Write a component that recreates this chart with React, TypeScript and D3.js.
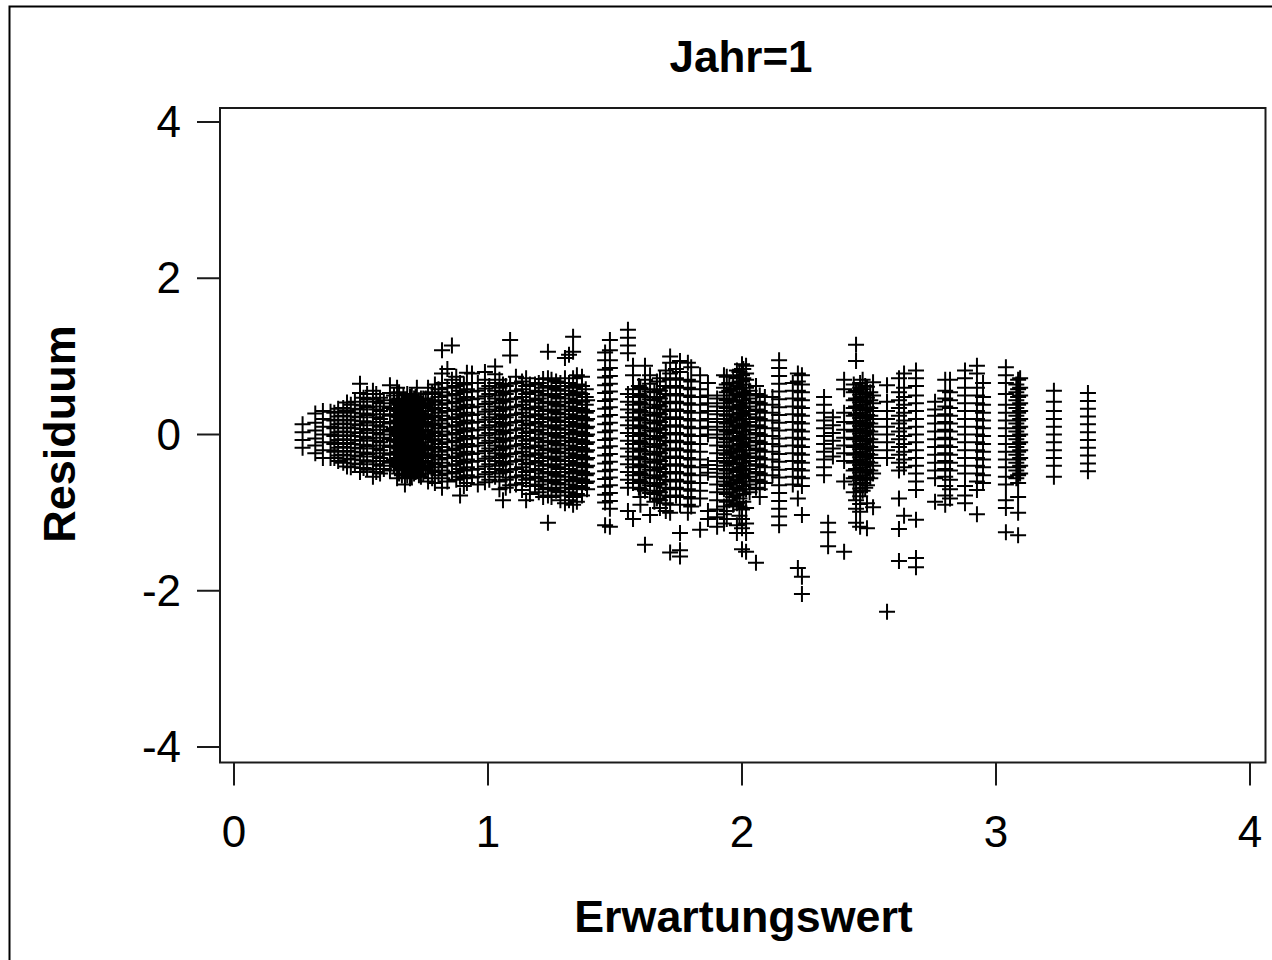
import React from "react";
import * as d3 from "d3";

const xTicks = [0, 1, 2, 3, 4];
const yTicks = [-4, -2, 0, 2, 4];
const titleText = "Jahr=1";
const xLabel = "Erwartungswert";
const yLabel = "Residuum";

const columnX = [
  0.27, 0.32, 0.38, 0.41, 0.445, 0.476, 0.496, 0.524, 0.547, 0.575, 0.614, 0.642, 0.661, 0.673, 0.693, 0.709, 0.72, 0.736,
  0.764, 0.791, 0.819, 0.858, 0.89, 0.917, 0.937, 0.988, 1.028, 1.059, 1.087, 1.134, 1.15, 1.185, 1.217, 1.236, 1.268,
  1.303, 1.319, 1.335, 1.37, 1.39, 1.461, 1.48, 1.551, 1.571, 1.594, 1.618, 1.638, 1.677, 1.717, 1.756, 1.787, 1.835,
  1.866, 1.902, 1.929, 1.965, 2.0, 2.016, 2.055, 2.09, 2.146, 2.22, 2.236, 2.323, 2.339, 2.358, 2.402, 2.449, 2.465,
  2.492, 2.516, 2.571, 2.618, 2.638, 2.685, 2.76, 2.8, 2.819, 2.878, 2.925, 2.949, 3.039, 3.087, 3.228, 3.362,
];

const columnY = [
  [-0.17, -0.07, 0.03, 0.13],
  [-0.24, -0.14, -0.05, 0.05, 0.15, 0.27],
  [-0.3, -0.2, -0.1, 0, 0.1, 0.19, 0.29],
  [-0.34, -0.27, -0.17, -0.07, 0.03, 0.13, 0.23, 0.33],
  [-0.41, -0.31, -0.21, -0.11, -0.01, 0.09, 0.19, 0.3, 0.41],
  [-0.37, -0.27, -0.17, -0.07, 0.03, 0.13, 0.23, 0.33, 0.42],
  [-0.48, -0.38, -0.28, -0.18, -0.08, 0.02, 0.12, 0.22, 0.32, 0.42, 0.53, 0.65],
  [-0.45, -0.35, -0.25, -0.15, -0.05, 0.05, 0.15, 0.25, 0.35, 0.45, 0.52],
  [-0.54, -0.44, -0.34, -0.24, -0.14, -0.04, 0.06, 0.16, 0.26, 0.36, 0.46, 0.56],
  [-0.5, -0.4, -0.3, -0.2, -0.1, 0, 0.1, 0.2, 0.3, 0.4, 0.47],
  [-0.46, -0.36, -0.26, -0.16, -0.06, 0.04, 0.14, 0.24, 0.34, 0.44, 0.53, 0.63],
  [-0.56, -0.46, -0.38, -0.3, -0.22, -0.14, -0.06, 0.02, 0.1, 0.18, 0.26, 0.34, 0.42, 0.5, 0.6],
  [-0.52, -0.44, -0.36, -0.28, -0.2, -0.12, -0.04, 0.04, 0.12, 0.2, 0.28, 0.36, 0.44],
  [-0.64, -0.55, -0.41, -0.33, -0.25, -0.17, -0.09, -0.01, 0.07, 0.15, 0.23, 0.31, 0.39],
  [-0.56, -0.48, -0.4, -0.32, -0.24, -0.16, -0.08, 0, 0.08, 0.16, 0.24, 0.32, 0.4, 0.48],
  [-0.5, -0.42, -0.34, -0.26, -0.18, -0.1, -0.02, 0.06, 0.14, 0.22, 0.3, 0.38, 0.46],
  [-0.46, -0.38, -0.3, -0.22, -0.14, -0.06, 0.02, 0.1, 0.18, 0.26, 0.34, 0.42, 0.6],
  [-0.54, -0.44, -0.34, -0.24, -0.14, -0.04, 0.06, 0.16, 0.26, 0.36, 0.46],
  [-0.6, -0.5, -0.4, -0.3, -0.2, -0.1, 0, 0.1, 0.2, 0.3, 0.4, 0.52, 0.6],
  [-0.62, -0.48, -0.38, -0.28, -0.18, -0.08, 0.02, 0.12, 0.22, 0.32, 0.42, 0.52, 0.64],
  [-0.68, -0.56, -0.46, -0.36, -0.26, -0.16, -0.06, 0.04, 0.14, 0.24, 0.34, 0.44, 0.54, 0.66, 0.78, 1.08],
  [-0.5, -0.4, -0.3, -0.2, -0.1, 0, 0.1, 0.2, 0.3, 0.4, 0.5, 0.6, 0.7, 1.14],
  [-0.78, -0.54, -0.44, -0.34, -0.24, -0.14, -0.04, 0.06, 0.16, 0.26, 0.36, 0.46, 0.56, 0.66],
  [-0.62, -0.52, -0.42, -0.32, -0.22, -0.12, -0.02, 0.08, 0.18, 0.28, 0.38, 0.48, 0.58, 0.66, 0.79],
  [-0.55, -0.45, -0.35, -0.25, -0.15, -0.05, 0.05, 0.15, 0.25, 0.35, 0.45, 0.55, 0.66, 0.78],
  [-0.61, -0.51, -0.41, -0.31, -0.21, -0.11, -0.01, 0.09, 0.19, 0.29, 0.39, 0.49, 0.59, 0.7, 0.8],
  [-0.54, -0.44, -0.34, -0.24, -0.14, -0.04, 0.06, 0.16, 0.26, 0.36, 0.46, 0.56, 0.66, 0.77, 0.87],
  [-0.84, -0.46, -0.36, -0.26, -0.16, -0.06, 0.04, 0.14, 0.24, 0.34, 0.44, 0.54, 0.64],
  [-0.65, -0.55, -0.45, -0.35, -0.25, -0.15, -0.05, 0.05, 0.15, 0.25, 0.35, 0.45, 0.55, 0.65, 1.01, 1.21],
  [-0.71, -0.62, -0.52, -0.42, -0.32, -0.22, -0.12, -0.02, 0.08, 0.18, 0.28, 0.38, 0.48, 0.58, 0.68],
  [-0.84, -0.58, -0.48, -0.38, -0.28, -0.18, -0.08, 0.02, 0.12, 0.22, 0.32, 0.42, 0.52, 0.62, 0.72],
  [-0.66, -0.56, -0.46, -0.36, -0.26, -0.16, -0.06, 0.04, 0.14, 0.24, 0.34, 0.44, 0.54, 0.64],
  [-0.8, -0.7, -0.6, -0.5, -0.4, -0.3, -0.2, -0.1, 0, 0.1, 0.2, 0.3, 0.4, 0.5, 0.6, 0.71],
  [-1.13, -0.78, -0.68, -0.58, -0.48, -0.38, -0.28, -0.18, -0.08, 0.02, 0.12, 0.22, 0.32, 0.42, 0.52, 0.62, 0.72, 1.06],
  [-0.72, -0.62, -0.52, -0.42, -0.32, -0.22, -0.12, -0.02, 0.08, 0.18, 0.28, 0.38, 0.48, 0.58, 0.68],
  [-0.88, -0.78, -0.68, -0.58, -0.48, -0.38, -0.28, -0.18, -0.08, 0.02, 0.12, 0.22, 0.32, 0.42, 0.52, 0.62, 0.72, 0.98],
  [-0.84, -0.74, -0.64, -0.54, -0.44, -0.34, -0.24, -0.14, -0.04, 0.06, 0.16, 0.26, 0.36, 0.46, 0.56, 0.66, 1.02],
  [-0.9, -0.8, -0.7, -0.6, -0.5, -0.4, -0.3, -0.2, -0.1, 0, 0.1, 0.2, 0.3, 0.4, 0.5, 0.6, 0.72, 1.06, 1.25],
  [-0.78, -0.68, -0.58, -0.48, -0.38, -0.28, -0.18, -0.08, 0.02, 0.12, 0.22, 0.32, 0.42, 0.52, 0.62, 0.74],
  [-0.7, -0.6, -0.5, -0.4, -0.3, -0.2, -0.1, 0, 0.1, 0.2, 0.3, 0.44],
  [-1.16, -0.87, -0.77, -0.67, -0.57, -0.47, -0.37, -0.27, -0.17, -0.07, 0.03, 0.13, 0.23, 0.33, 0.43, 0.53, 0.63, 0.73, 0.83, 0.95, 1.05],
  [-1.18, -0.95, -0.85, -0.75, -0.65, -0.55, -0.45, -0.35, -0.25, -0.15, -0.05, 0.05, 0.15, 0.25, 0.35, 0.45, 0.55, 0.65, 0.75, 0.85, 0.95, 1.08, 1.21],
  [-0.98, -0.68, -0.58, -0.48, -0.38, -0.28, -0.18, -0.08, 0.02, 0.12, 0.22, 0.32, 0.42, 0.52, 1.04, 1.14, 1.24, 1.34],
  [-1.08, -0.62, -0.52, -0.42, -0.32, -0.22, -0.12, -0.02, 0.08, 0.18, 0.28, 0.38, 0.48, 0.58, 0.76, 0.88],
  [-0.68, -0.58, -0.48, -0.38, -0.28, -0.18, -0.08, 0.02, 0.12, 0.22, 0.32, 0.42, 0.52, 0.62],
  [-1.41, -0.72, -0.62, -0.52, -0.42, -0.32, -0.22, -0.12, -0.02, 0.08, 0.18, 0.28, 0.38, 0.48, 0.58, 0.7, 0.88],
  [-1.03, -0.75, -0.65, -0.55, -0.45, -0.35, -0.25, -0.15, -0.05, 0.05, 0.15, 0.25, 0.35, 0.45, 0.55, 0.65, 0.76],
  [-0.94, -0.84, -0.74, -0.64, -0.54, -0.44, -0.34, -0.24, -0.14, -0.04, 0.06, 0.16, 0.26, 0.36, 0.46, 0.56, 0.72],
  [-1.51, -1.0, -0.9, -0.8, -0.7, -0.6, -0.5, -0.4, -0.3, -0.2, -0.1, 0, 0.1, 0.2, 0.3, 0.4, 0.5, 0.6, 0.7, 0.78, 0.92, 1.0],
  [-1.56, -1.48, -1.26, -0.9, -0.8, -0.7, -0.6, -0.5, -0.4, -0.3, -0.2, -0.1, 0, 0.1, 0.2, 0.3, 0.4, 0.5, 0.6, 0.7, 0.8, 0.94],
  [-1.0, -0.9, -0.8, -0.7, -0.6, -0.5, -0.4, -0.3, -0.2, -0.1, 0, 0.1, 0.2, 0.3, 0.4, 0.5, 0.6, 0.7, 0.92],
  [-1.22, -0.82, -0.72, -0.62, -0.52, -0.42, -0.32, -0.22, -0.12, -0.02, 0.08, 0.18, 0.28, 0.38, 0.48, 0.58, 0.76],
  [-1.08, -0.98, -0.49, -0.39, 0, 0.1, 0.2, 0.3, 0.4, 0.5, 0.66],
  [-1.18, -1.06, -0.96, -0.84, -0.74, -0.64, -0.54, -0.44, -0.34, -0.24, -0.14, -0.04, 0.06, 0.16, 0.26, 0.36, 0.46],
  [-1.14, -1.02, -0.92, -0.7, -0.6, -0.5, -0.4, -0.3, -0.2, -0.1, 0, 0.1, 0.2, 0.3, 0.4, 0.5, 0.6, 0.76],
  [-0.9, -0.8, -0.7, -0.62, -0.54, -0.46, -0.38, -0.3, -0.22, -0.14, -0.06, 0.02, 0.1, 0.18, 0.26, 0.34, 0.42, 0.5, 0.58, 0.66, 0.74],
  [-1.47, -1.2, -1.08, -0.96, -0.6, -0.52, -0.44, -0.36, -0.28, -0.2, -0.12, -0.04, 0.04, 0.12, 0.2, 0.28, 0.36, 0.44, 0.52, 0.6, 0.68, 0.76, 0.84, 0.9],
  [-1.5, -1.26, -1.14, -0.94, -0.7, -0.6, -0.5, -0.4, -0.3, -0.2, -0.1, 0, 0.1, 0.2, 0.3, 0.4, 0.5, 0.6, 0.7, 0.78, 0.88],
  [-1.64, -0.68, -0.58, -0.48, -0.38, -0.28, -0.18, -0.08, 0.02, 0.12, 0.22, 0.32, 0.42, 0.52, 0.62],
  [-0.62, -0.52, -0.42, -0.32, -0.22, -0.12, -0.02, 0.08, 0.18, 0.28, 0.38, 0.48],
  [-1.16, -1.05, -0.95, -0.85, -0.75, -0.65, -0.55, -0.45, -0.35, -0.25, -0.15, -0.05, 0.05, 0.15, 0.25, 0.35, 0.45, 0.55, 0.65, 0.75, 0.85, 0.95],
  [-1.71, -0.82, -0.54, -0.44, -0.34, -0.24, -0.14, -0.04, 0.06, 0.16, 0.26, 0.36, 0.46, 0.56, 0.68, 0.78],
  [-2.04, -1.82, -1.03, -0.66, -0.56, -0.46, -0.36, -0.26, -0.16, -0.06, 0.04, 0.14, 0.24, 0.34, 0.44, 0.54, 0.64, 0.76],
  [-0.52, -0.42, -0.32, -0.22, -0.12, -0.02, 0.08, 0.18, 0.28, 0.38, 0.48],
  [-1.43, -1.25, -1.13],
  [-0.28, -0.18, -0.08, 0.02, 0.12, 0.22],
  [-1.5, -0.6, -0.34, -0.24, -0.14, -0.04, 0.06, 0.16, 0.28, 0.58, 0.7],
  [-1.13, -0.95, -0.84, -0.74, -0.64, -0.54, -0.44, -0.34, -0.24, -0.14, -0.04, 0.06, 0.16, 0.26, 0.36, 0.46, 0.56, 0.94, 1.15],
  [-1.18, -0.99, -0.89, -0.79, -0.69, -0.59, -0.49, -0.39, -0.29, -0.19, -0.09, 0.01, 0.11, 0.21, 0.31, 0.41, 0.51, 0.6, 0.66],
  [-1.2, -0.88, -0.65, -0.55, -0.45, -0.35, -0.25, -0.15, -0.05, 0.05, 0.15, 0.25, 0.35, 0.47, 0.61],
  [-0.93, -0.5, -0.4, -0.3, -0.2, -0.1, 0, 0.1, 0.2, 0.3, 0.4, 0.5, 0.67],
  [-2.27, -0.3, -0.2, -0.1, 0, 0.1, 0.2, 0.3, 0.42, 0.63],
  [-1.62, -1.21, -0.82, -0.46, -0.36, -0.26, -0.16, -0.06, 0.04, 0.14, 0.24, 0.34, 0.44, 0.54, 0.72],
  [-1.04, -0.42, -0.32, -0.22, -0.12, -0.02, 0.08, 0.18, 0.28, 0.38, 0.48, 0.6, 0.78],
  [-1.7, -1.58, -1.09, -0.71, -0.6, -0.5, -0.4, -0.3, -0.2, -0.1, 0, 0.1, 0.2, 0.3, 0.4, 0.5, 0.62, 0.72, 0.82],
  [-0.86, -0.56, -0.46, -0.36, -0.26, -0.16, -0.06, 0.04, 0.14, 0.24, 0.32, 0.42],
  [-0.9, -0.78, -0.66, -0.54, -0.44, -0.34, -0.24, -0.14, -0.04, 0.06, 0.16, 0.26, 0.36, 0.46, 0.56, 0.7],
  [-0.82, -0.7, -0.58, -0.46, -0.36, -0.26, -0.16, -0.06, 0.04, 0.14, 0.24, 0.34, 0.44, 0.54, 0.7],
  [-0.88, -0.78, -0.66, -0.5, -0.4, -0.3, -0.2, -0.1, 0, 0.1, 0.2, 0.3, 0.4, 0.5, 0.6, 0.72, 0.82],
  [-1.02, -0.71, -0.6, -0.5, -0.4, -0.3, -0.2, -0.1, 0, 0.1, 0.2, 0.3, 0.4, 0.5, 0.6, 0.78, 0.88],
  [-0.62, -0.52, -0.42, -0.32, -0.22, -0.12, -0.02, 0.08, 0.18, 0.28, 0.38, 0.48, 0.66],
  [-1.25, -0.94, -0.84, -0.64, -0.54, -0.42, -0.32, -0.22, -0.12, -0.02, 0.08, 0.18, 0.28, 0.38, 0.52, 0.66, 0.76, 0.86],
  [-1.29, -1.0, -0.8, -0.62, -0.52, -0.42, -0.32, -0.22, -0.12, -0.02, 0.08, 0.18, 0.28, 0.38, 0.48, 0.58, 0.7],
  [-0.54, -0.4, -0.3, -0.2, -0.1, 0, 0.1, 0.2, 0.3, 0.42, 0.56],
  [-0.47, -0.37, -0.27, -0.17, -0.07, 0.03, 0.13, 0.23, 0.33, 0.43, 0.53],
];

// Columns that fill the dense parts of the cloud, where single columns overlap.
const denseX = [
  0.35, 0.395, 0.43, 0.46, 0.51, 0.56, 0.59, 0.63, 0.65, 0.667, 0.682, 0.70, 0.715, 0.728, 0.745, 0.755, 0.78, 0.805,
  0.84, 0.875, 0.905, 0.96, 1.005, 1.045, 1.07, 1.11, 1.165, 1.2, 1.25, 1.285, 1.35, 1.385, 1.6, 1.655, 1.665, 1.7,
  1.74, 1.8, 1.94, 1.95, 1.98, 1.99, 2.005, 2.03, 2.07, 2.12, 2.2, 2.44, 2.475, 2.485, 2.505, 3.08, 3.095,
];

const denseY = [
  [-0.3, -0.2, -0.1, 0, 0.1, 0.2, 0.3],
  [-0.3, -0.22, -0.12, -0.02, 0.08, 0.18, 0.28],
  [-0.36, -0.26, -0.16, -0.06, 0.04, 0.14, 0.24, 0.34],
  [-0.42, -0.32, -0.22, -0.12, -0.02, 0.08, 0.18, 0.28, 0.38],
  [-0.43, -0.33, -0.23, -0.13, -0.03, 0.07, 0.17, 0.27, 0.37, 0.47],
  [-0.48, -0.38, -0.28, -0.18, -0.08, 0.02, 0.12, 0.22, 0.32, 0.42, 0.52],
  [-0.44, -0.34, -0.24, -0.14, -0.04, 0.06, 0.16, 0.26, 0.36, 0.44],
  [-0.4, -0.32, -0.24, -0.16, -0.08, 0, 0.08, 0.16, 0.24, 0.32, 0.4, 0.5],
  [-0.5, -0.42, -0.34, -0.26, -0.18, -0.1, -0.02, 0.06, 0.14, 0.22, 0.3, 0.38, 0.46, 0.54],
  [-0.46, -0.38, -0.3, -0.22, -0.14, -0.06, 0.02, 0.1, 0.18, 0.26, 0.34, 0.42, 0.5],
  [-0.52, -0.44, -0.36, -0.28, -0.2, -0.12, -0.04, 0.04, 0.12, 0.2, 0.28, 0.36, 0.44, 0.52],
  [-0.54, -0.46, -0.38, -0.3, -0.22, -0.14, -0.06, 0.02, 0.1, 0.18, 0.26, 0.34, 0.42, 0.5],
  [-0.48, -0.4, -0.32, -0.24, -0.16, -0.08, 0, 0.08, 0.16, 0.24, 0.32, 0.4, 0.48],
  [-0.52, -0.44, -0.36, -0.28, -0.2, -0.12, -0.04, 0.04, 0.12, 0.2, 0.28, 0.36, 0.44],
  [-0.5, -0.42, -0.34, -0.26, -0.18, -0.1, -0.02, 0.06, 0.14, 0.22, 0.3, 0.38, 0.46],
  [-0.44, -0.34, -0.24, -0.14, -0.04, 0.06, 0.16, 0.26, 0.36, 0.46],
  [-0.56, -0.46, -0.36, -0.26, -0.16, -0.06, 0.04, 0.14, 0.24, 0.34, 0.44, 0.54],
  [-0.52, -0.42, -0.32, -0.22, -0.12, -0.02, 0.08, 0.18, 0.28, 0.38, 0.48, 0.58],
  [-0.6, -0.5, -0.4, -0.3, -0.2, -0.1, 0, 0.1, 0.2, 0.3, 0.4, 0.5, 0.6, 0.84],
  [-0.58, -0.48, -0.38, -0.28, -0.18, -0.08, 0.02, 0.12, 0.22, 0.32, 0.42, 0.52, 0.62, 0.74],
  [-0.66, -0.56, -0.46, -0.36, -0.26, -0.16, -0.06, 0.04, 0.14, 0.24, 0.34, 0.44, 0.54, 0.64],
  [-0.64, -0.54, -0.44, -0.34, -0.24, -0.14, -0.04, 0.06, 0.16, 0.26, 0.36, 0.46, 0.56, 0.66],
  [-0.58, -0.48, -0.38, -0.28, -0.18, -0.08, 0.02, 0.12, 0.22, 0.32, 0.42, 0.52, 0.62],
  [-0.7, -0.6, -0.5, -0.4, -0.3, -0.2, -0.1, 0, 0.1, 0.2, 0.3, 0.4, 0.5, 0.6, 0.7],
  [-0.68, -0.58, -0.48, -0.38, -0.28, -0.18, -0.08, 0.02, 0.12, 0.22, 0.32, 0.42, 0.52, 0.62],
  [-0.64, -0.54, -0.44, -0.34, -0.24, -0.14, -0.04, 0.06, 0.16, 0.26, 0.36, 0.46, 0.56, 0.66, 0.74],
  [-0.76, -0.66, -0.56, -0.46, -0.36, -0.26, -0.16, -0.06, 0.04, 0.14, 0.24, 0.34, 0.44, 0.54, 0.64],
  [-0.74, -0.64, -0.54, -0.44, -0.34, -0.24, -0.14, -0.04, 0.06, 0.16, 0.26, 0.36, 0.46, 0.56, 0.66],
  [-0.8, -0.7, -0.6, -0.5, -0.4, -0.3, -0.2, -0.1, 0, 0.1, 0.2, 0.3, 0.4, 0.5, 0.6, 0.7],
  [-0.84, -0.74, -0.64, -0.54, -0.44, -0.34, -0.24, -0.14, -0.04, 0.06, 0.16, 0.26, 0.36, 0.46, 0.56, 0.66],
  [-0.86, -0.76, -0.66, -0.56, -0.46, -0.36, -0.26, -0.16, -0.06, 0.04, 0.14, 0.24, 0.34, 0.44, 0.54, 0.64, 0.76],
  [-0.62, -0.52, -0.42, -0.32, -0.22, -0.12, -0.02, 0.08, 0.18, 0.28, 0.38, 0.48, 0.58],
  [-0.9, -0.8, -0.7, -0.6, -0.5, -0.4, -0.3, -0.2, -0.1, 0, 0.1, 0.2, 0.3, 0.4, 0.5, 0.6],
  [-0.86, -0.76, -0.66, -0.56, -0.46, -0.36, -0.26, -0.16, -0.06, 0.04, 0.14, 0.24, 0.34, 0.44, 0.54],
  [-0.82, -0.72, -0.62, -0.52, -0.42, -0.32, -0.22, -0.12, -0.02, 0.08, 0.18, 0.28, 0.38, 0.48, 0.58, 0.68],
  [-0.98, -0.88, -0.78, -0.68, -0.58, -0.48, -0.38, -0.28, -0.18, -0.08, 0.02, 0.12, 0.22, 0.32, 0.42, 0.52, 0.62, 0.82],
  [-0.78, -0.68, -0.58, -0.48, -0.38, -0.28, -0.18, -0.08, 0.02, 0.12, 0.22, 0.32, 0.42, 0.52, 0.62, 0.72, 0.84],
  [-0.92, -0.82, -0.72, -0.62, -0.52, -0.42, -0.32, -0.22, -0.12, -0.02, 0.08, 0.18, 0.28, 0.38, 0.48, 0.58, 0.68, 0.86],
  [-1.08, -0.98, -0.86, -0.76, -0.66, -0.56, -0.46, -0.36, -0.26, -0.16, -0.06, 0.04, 0.14, 0.24, 0.34, 0.44, 0.54, 0.64, 0.74],
  [-0.84, -0.74, -0.64, -0.54, -0.44, -0.34, -0.24, -0.14, -0.04, 0.06, 0.16, 0.26, 0.36, 0.46, 0.56, 0.66],
  [-1.26, -1.16, -0.88, -0.78, -0.68, -0.58, -0.48, -0.38, -0.28, -0.18, -0.08, 0.02, 0.12, 0.22, 0.32, 0.42, 0.52, 0.62, 0.72, 0.82],
  [-1.04, -0.92, -0.82, -0.72, -0.62, -0.52, -0.42, -0.32, -0.22, -0.12, -0.02, 0.08, 0.18, 0.28, 0.38, 0.48, 0.58, 0.68, 0.8],
  [-0.86, -0.76, -0.66, -0.56, -0.46, -0.36, -0.26, -0.16, -0.06, 0.04, 0.14, 0.24, 0.34, 0.44, 0.54, 0.64, 0.72, 0.84],
  [-0.74, -0.64, -0.54, -0.44, -0.34, -0.24, -0.14, -0.04, 0.06, 0.16, 0.26, 0.36, 0.46, 0.56],
  [-0.8, -0.7, -0.6, -0.5, -0.4, -0.3, -0.2, -0.1, 0, 0.1, 0.2, 0.3, 0.4, 0.5],
  [-0.52, -0.42, -0.32, -0.22, -0.12, -0.02, 0.08, 0.18, 0.28, 0.38, 0.48],
  [-0.64, -0.54, -0.44, -0.34, -0.24, -0.14, -0.04, 0.06, 0.16, 0.26, 0.36, 0.46, 0.56, 0.66],
  [-0.74, -0.56, -0.46, -0.36, -0.26, -0.16, -0.06, 0.04, 0.14, 0.24, 0.34, 0.44, 0.54, 0.64],
  [-0.72, -0.62, -0.52, -0.42, -0.32, -0.22, -0.12, -0.02, 0.08, 0.18, 0.28, 0.38, 0.48, 0.58, 0.7],
  [-0.68, -0.58, -0.48, -0.38, -0.28, -0.18, -0.08, 0.02, 0.12, 0.22, 0.32, 0.42, 0.52, 0.62],
  [-0.56, -0.46, -0.36, -0.26, -0.16, -0.06, 0.04, 0.14, 0.24, 0.34, 0.44, 0.54],
  [-0.56, -0.46, -0.36, -0.26, -0.16, -0.06, 0.04, 0.14, 0.24, 0.34, 0.44, 0.54, 0.64],
  [-0.5, -0.4, -0.3, -0.2, -0.1, 0, 0.1, 0.2, 0.3, 0.4, 0.5, 0.6, 0.72],
];

const xScale = d3.scaleLinear().domain([0, 4]).range([234, 1250]);
const yScale = d3.scaleLinear().domain([-4, 4]).range([747, 122]);

const ARM = 8;
const FONT = "'Liberation Sans', Arial, sans-serif";

const toPoints = (xs: number[], ys: number[][]) =>
  xs.flatMap((x, i) => ys[i].map((y) => [xScale(x), yScale(y)] as const));

export default function App() {
  const points = [...toPoints(columnX, columnY), ...toPoints(denseX, denseY)];
  const plusPath = points
    .map(([px, py]) => {
      const p = d3.path();
      p.moveTo(px - ARM, py);
      p.lineTo(px + ARM, py);
      p.moveTo(px, py - ARM);
      p.lineTo(px, py + ARM);
      return p.toString();
    })
    .join("");
  return (
    <svg
      width={1272}
      height={960}
      viewBox="0 0 1272 960"
      style={{ position: "absolute", left: 0, top: 0, background: "#fff" }}
      fontFamily={FONT}
    >
      <path d="M9.5 961V6.5H1273" fill="none" stroke="#000" strokeWidth={2} />
      <rect x={220} y={108} width={1045.5} height={654.5} fill="none" stroke="#1a1a1a" strokeWidth={2} />
      {xTicks.map((t) => (
        <g key={t}>
          <line x1={xScale(t)} x2={xScale(t)} y1={762.5} y2={785.5} stroke="#1a1a1a" strokeWidth={2} />
          <text x={xScale(t)} y={847} fontSize={44} textAnchor="middle" fill="#000">
            {t}
          </text>
        </g>
      ))}
      {yTicks.map((t) => (
        <g key={t}>
          <line x1={197} x2={220} y1={yScale(t)} y2={yScale(t)} stroke="#1a1a1a" strokeWidth={2} />
          <text x={181} y={yScale(t) + 15} fontSize={44} textAnchor="end" fill="#000">
            {t}
          </text>
        </g>
      ))}
      <path d={plusPath} fill="none" stroke="#000" strokeWidth={2} />
      <text x={741} y={72} fontSize={44} fontWeight="bold" textAnchor="middle" fill="#000">
        {titleText}
      </text>
      <text x={743.5} y={932} fontSize={44.8} fontWeight="bold" textAnchor="middle" fill="#000">
        {xLabel}
      </text>
      <text
        transform="translate(75,434) rotate(-90)"
        fontSize={45}
        fontWeight="bold"
        textAnchor="middle"
        fill="#000"
      >
        {yLabel}
      </text>
    </svg>
  );
}
